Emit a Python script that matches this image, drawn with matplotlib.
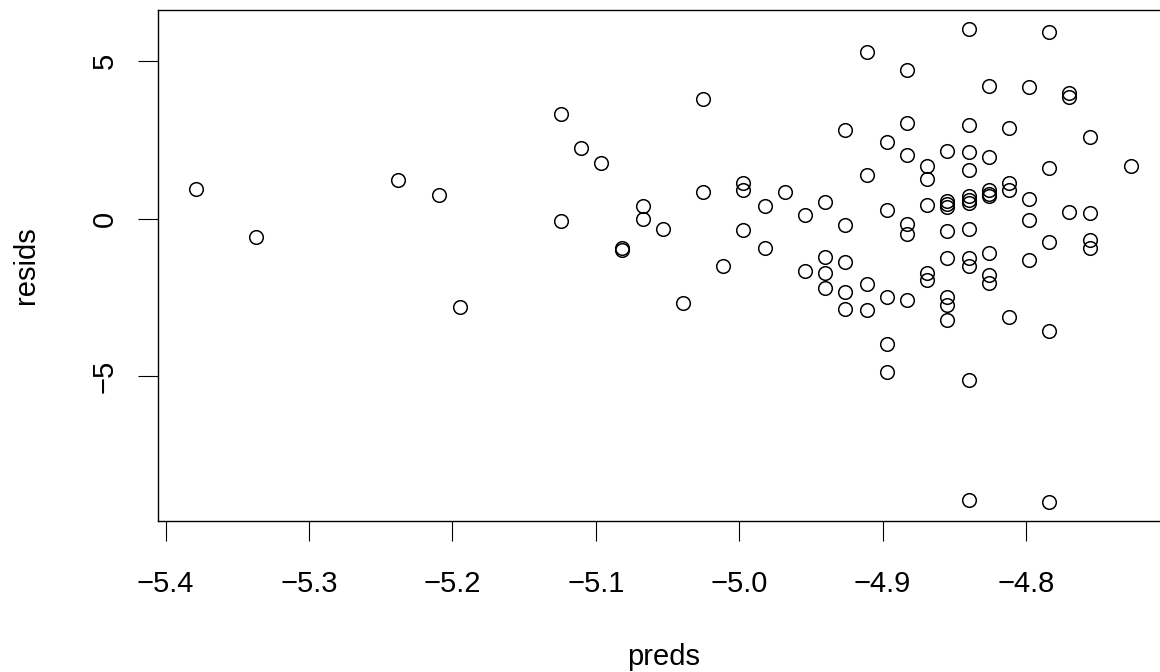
import matplotlib
matplotlib.use("Agg")
import matplotlib.pyplot as plt

# preds levels and residuals
preds = [
    -5.379, -5.337, -5.238, -5.209, -5.195,
    -5.124, -5.124, -5.110, -5.096, -5.082, -5.082,
    -5.067, -5.067, -5.053, -5.039, -5.025, -5.025, -5.011,
    -4.997, -4.997, -4.997, -4.982, -4.982, -4.968, -4.954, -4.954,
    -4.940, -4.940, -4.940, -4.940,
    -4.926, -4.926, -4.926, -4.926, -4.926,
    -4.911, -4.911, -4.911, -4.911,
    -4.897, -4.897, -4.897, -4.897, -4.897,
    -4.883, -4.883, -4.883, -4.883, -4.883, -4.883,
    -4.869, -4.869, -4.869, -4.869, -4.869,
    -4.855, -4.855, -4.855, -4.855, -4.855, -4.855, -4.855, -4.855, -4.855,
    -4.840, -4.840, -4.840, -4.840, -4.840, -4.840, -4.840, -4.840, -4.840,
    -4.840, -4.840, -4.840,
    -4.826, -4.826, -4.826, -4.826, -4.826, -4.826, -4.826, -4.826,
    -4.812, -4.812, -4.812, -4.812,
    -4.798, -4.798, -4.798, -4.798,
    -4.784, -4.784, -4.784, -4.784, -4.784,
    -4.770, -4.770, -4.770,
    -4.755, -4.755, -4.755, -4.755,
    -4.727,
]
resids = [
    0.96, -0.57, 1.23, 0.75, -2.81,
    3.34, -0.08, 2.25, 1.77, -0.93, -0.98,
    0.41, 0.00, -0.32, -2.68, 3.80, 0.86, -1.49,
    1.15, 0.91, -0.36, 0.41, -0.94, 0.85, 0.13, -1.65,
    0.52, -1.22, -1.73, -2.20,
    2.81, -0.19, -1.37, -2.34, -2.87,
    5.29, 1.40, -2.06, -2.89,
    2.45, 0.29, -2.50, -3.97, -4.88,
    4.71, 3.03, 2.03, -0.16, -0.49, -2.58,
    1.68, 1.27, 0.43, -1.73, -1.94,
    2.16, 0.55, 0.48, 0.37, -0.40, -1.25, -2.47, -2.73, -3.21,
    6.03, 2.98, 2.13, 1.55, 0.71, 0.60, 0.50, -0.32, -1.25,
    -1.49, -5.12, -8.93,
    4.23, 1.96, 0.90, 0.78, 0.71, -1.09, -1.78, -2.04,
    2.87, 1.13, 0.90, -3.12,
    4.17, 0.63, -0.05, -1.32,
    5.93, 1.60, -0.75, -3.58, -8.99,
    4.01, 3.87, 0.21,
    2.61, 0.17, -0.67, -0.93,
    1.68,
]
xticks = [-5.4, -5.3, -5.2, -5.1, -5.0, -4.9, -4.8]
yticks = [-5, 0, 5]

plt.rcParams["font.family"] = ["Liberation Sans", "DejaVu Sans"]
plt.rcParams["font.size"] = 21

fig = plt.figure(figsize=(11.6, 6.72), dpi=100)
# plot box runs past the right edge of the picture, like the reference
ax = fig.add_axes([158.3 / 1160, 1 - 520.7 / 672, 1009.7 / 1160, 510.7 / 672])

ax.plot(preds, resids, "o", mfc="none", mec="black", ms=9.8, mew=1.1)
ax.margins(x=0.04, y=0.04)

ax.set_xticks(xticks)
ax.set_xticklabels([f"{t:.1f}".replace("-", "\u2212") for t in xticks])
ax.set_yticks(yticks)
ax.set_yticklabels([f"{t}".replace("-", "\u2212") for t in yticks])

for side in ["left", "bottom", "top", "right"]:
    ax.spines[side].set_linewidth(1.0)

ax.tick_params(axis="both", direction="out", length=14.4, width=0.8, color="black")
ax.tick_params(axis="x", pad=21)
ax.tick_params(axis="y", pad=14)
for lbl in ax.get_yticklabels():
    lbl.set_rotation(90)
    lbl.set_va("center")

ax.set_xlabel("preds", va="center")
ax.xaxis.set_label_coords(0.5, -0.267)
ax.set_ylabel("resids", va="center")
ax.yaxis.set_label_coords(-0.131, 0.5)

fig.savefig("out.png", dpi=100)
